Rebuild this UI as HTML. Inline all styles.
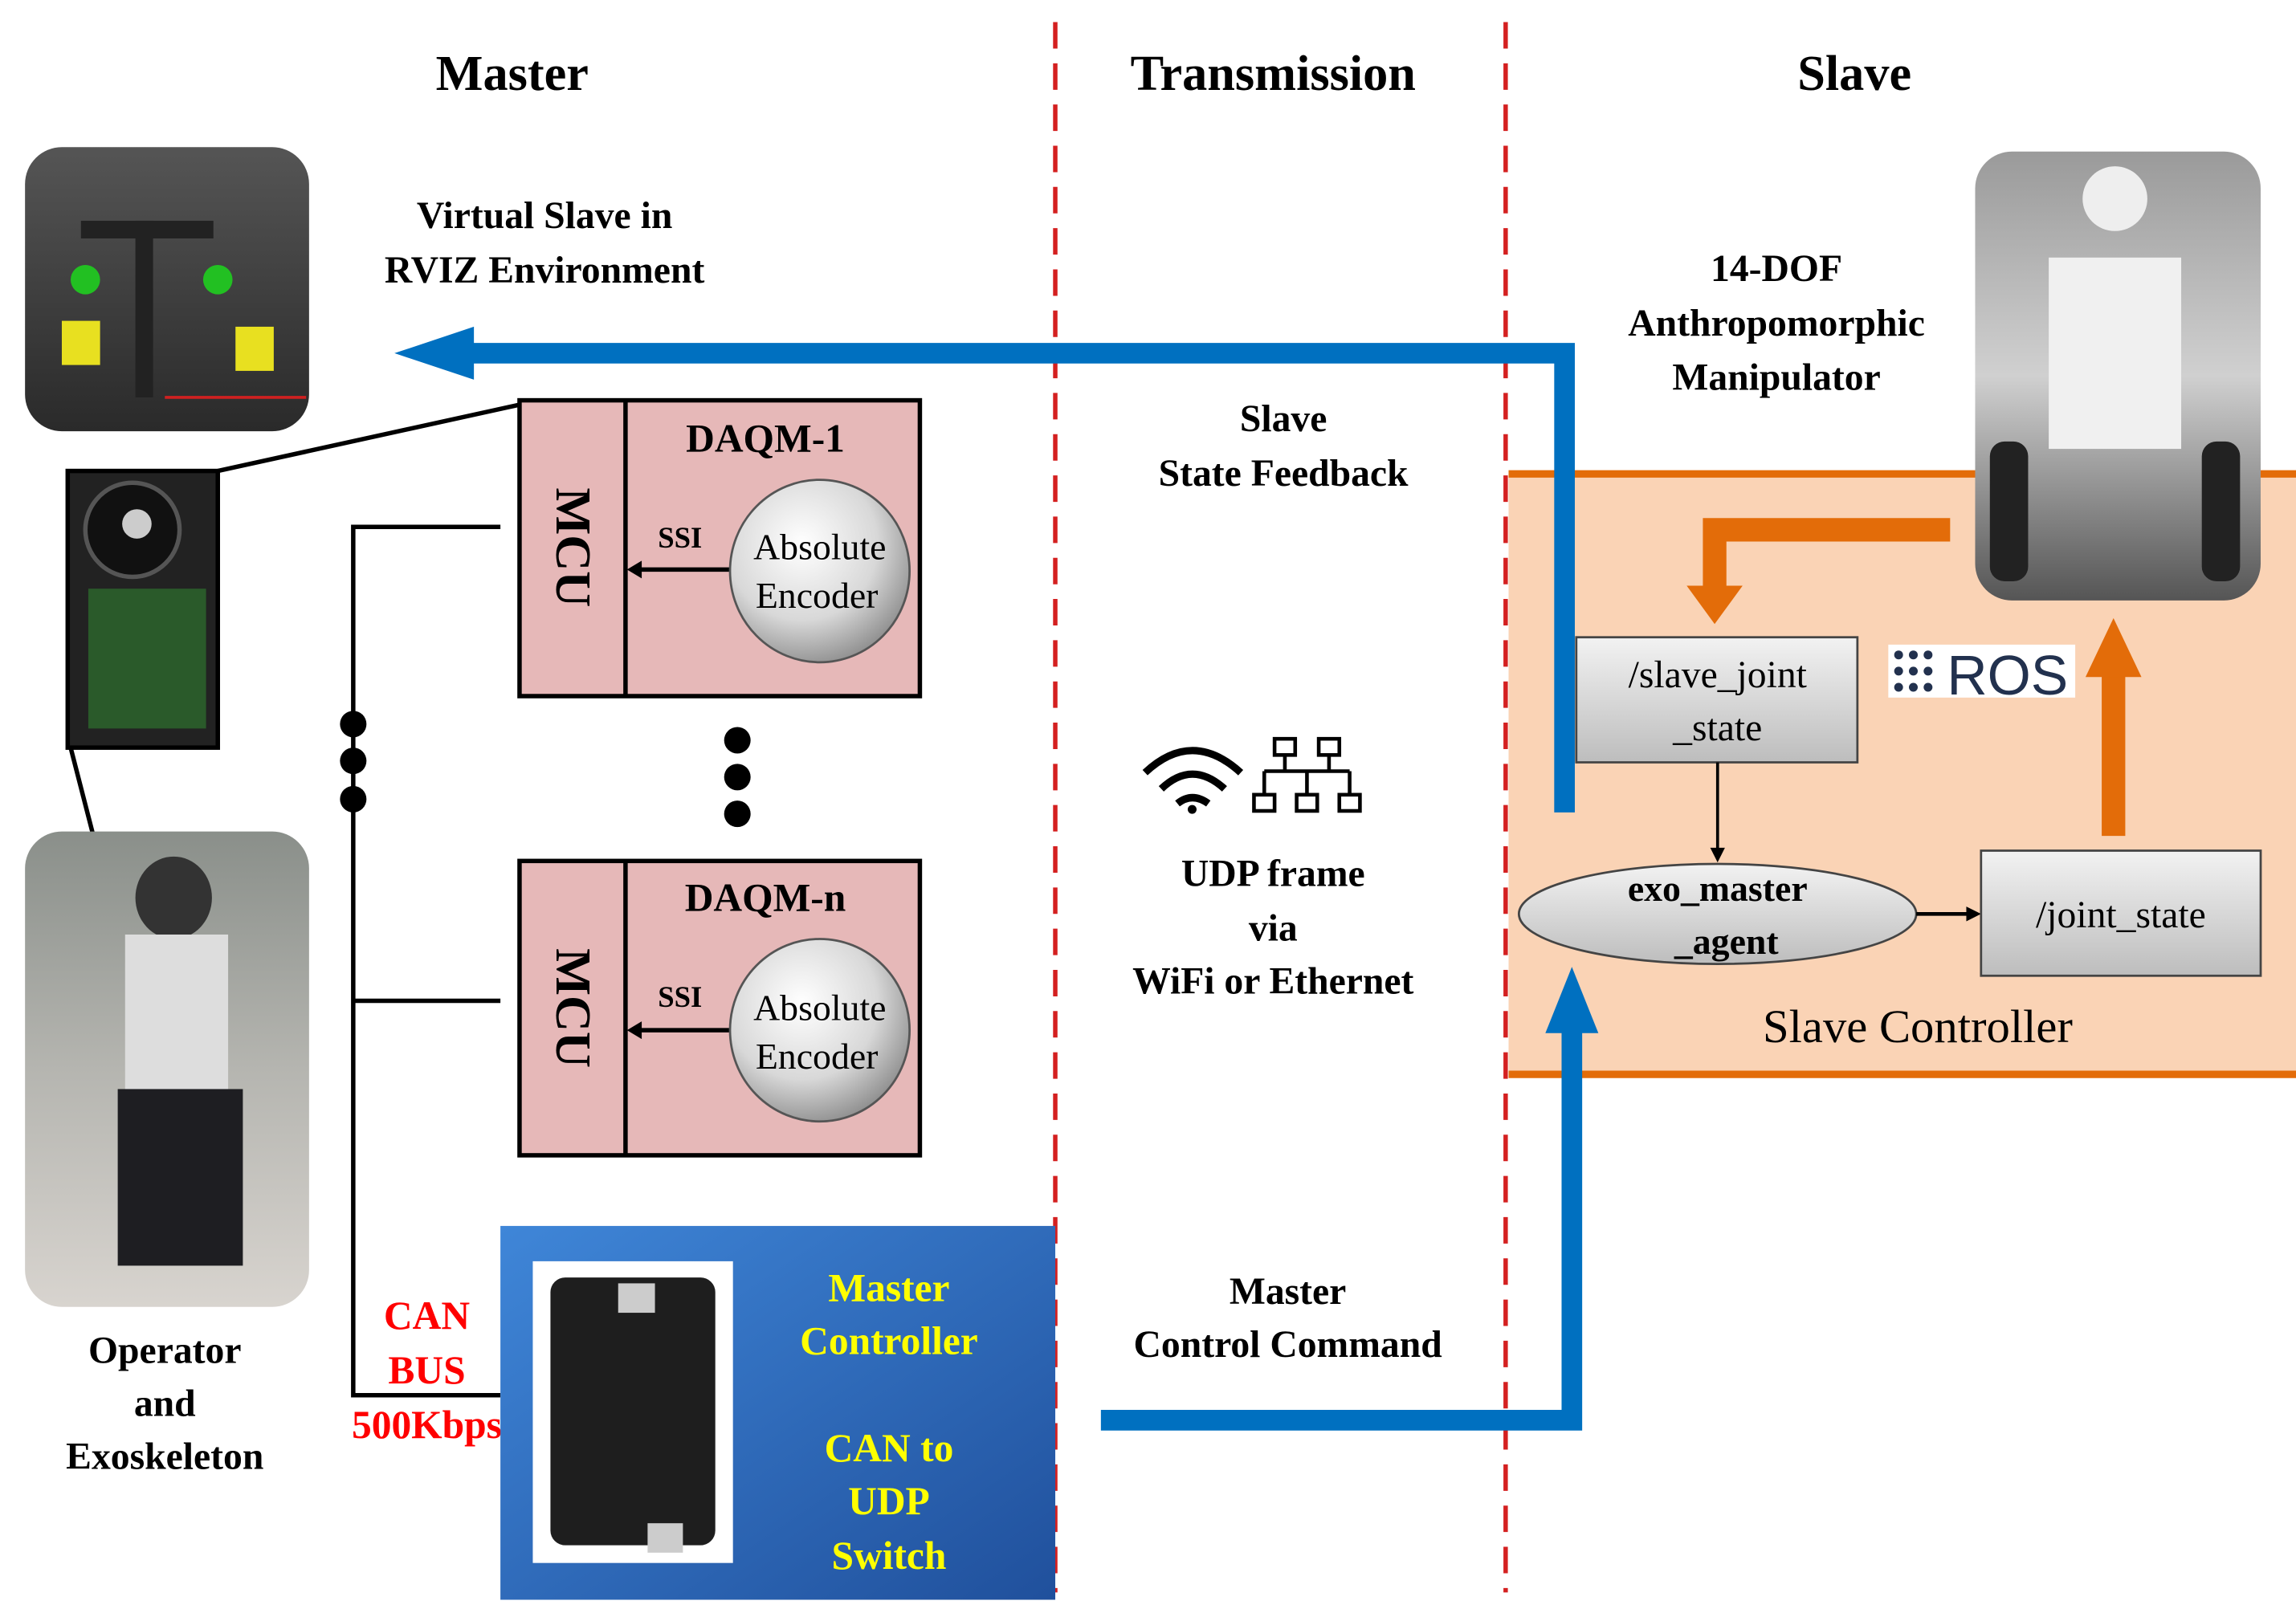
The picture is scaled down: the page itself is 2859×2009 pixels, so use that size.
<!DOCTYPE html>
<html><head><meta charset="utf-8"><style>
html,body{margin:0;padding:0;background:#fff;}
svg{display:block;}
text{font-family:"Liberation Serif",serif;font-weight:bold;text-anchor:middle;}
</style></head><body>
<svg width="2859" height="2009" viewBox="0 0 1560 1096" preserveAspectRatio="none" xmlns="http://www.w3.org/2000/svg">
<defs>
<radialGradient id="enc" cx="40%" cy="35%" r="70%"><stop offset="0" stop-color="#ffffff"/><stop offset="0.6" stop-color="#d8d8d8"/><stop offset="1" stop-color="#8a8a8a"/></radialGradient>
<linearGradient id="gbox" x1="0" y1="0" x2="0" y2="1"><stop offset="0" stop-color="#f2f2f2"/><stop offset="1" stop-color="#bdbdbd"/></linearGradient>
<linearGradient id="blue" x1="0" y1="0" x2="1" y2="1"><stop offset="0" stop-color="#3f86d8"/><stop offset="1" stop-color="#20509c"/></linearGradient>
<linearGradient id="rviz" x1="0" y1="0" x2="0" y2="1"><stop offset="0" stop-color="#555"/><stop offset="1" stop-color="#2a2a2a"/></linearGradient>
<linearGradient id="oper" x1="0" y1="0" x2="0" y2="1"><stop offset="0" stop-color="#8a8f8a"/><stop offset="0.5" stop-color="#b5b5b0"/><stop offset="1" stop-color="#d8d4cf"/></linearGradient>
<linearGradient id="robot" x1="0" y1="0" x2="0" y2="1"><stop offset="0" stop-color="#9a9a9a"/><stop offset="0.5" stop-color="#d0d0d0"/><stop offset="1" stop-color="#555"/></linearGradient>
</defs>

<!-- titles -->
<text x="348" y="61" font-size="34">Master</text>
<text x="865" y="61" font-size="34">Transmission</text>
<text x="1260" y="61" font-size="34">Slave</text>

<!-- slave controller background -->
<rect x="1025" y="322" width="540" height="408" fill="#fad3b5"/>
<line x1="1025" y1="322" x2="1560" y2="322" stroke="#e36c09" stroke-width="5"/>
<line x1="1025" y1="730" x2="1560" y2="730" stroke="#e36c09" stroke-width="5"/>

<!-- dashed lines -->
<line x1="717" y1="15" x2="717" y2="1082" stroke="#d42020" stroke-width="3" stroke-dasharray="18,10"/>
<line x1="1023" y1="15" x2="1023" y2="1082" stroke="#d42020" stroke-width="3" stroke-dasharray="18,10"/>

<!-- RVIZ image -->
<rect x="17" y="100" width="193" height="193" rx="25" fill="url(#rviz)"/>
<rect x="92" y="150" width="12" height="120" fill="#222"/>
<rect x="55" y="150" width="90" height="12" fill="#222"/>
<circle cx="58" cy="190" r="10" fill="#22c022"/><circle cx="148" cy="190" r="10" fill="#22c022"/>
<rect x="42" y="218" width="26" height="30" fill="#e8e020"/><rect x="160" y="222" width="26" height="30" fill="#e8e020"/>
<line x1="112" y1="270" x2="208" y2="270" stroke="#d02020" stroke-width="2"/>
<text x="370" y="155" font-size="26">Virtual Slave in</text>
<text x="370" y="192" font-size="26">RVIZ Environment</text>

<!-- encoder photo -->
<rect x="46" y="320" width="102" height="188" fill="#222" stroke="#000" stroke-width="3"/>
<circle cx="90" cy="360" r="32" fill="#111" stroke="#555" stroke-width="3"/>
<circle cx="93" cy="356" r="10" fill="#ccc"/>
<rect x="60" y="400" width="80" height="95" fill="#2a5a2a"/>
<line x1="148" y1="320" x2="353" y2="275" stroke="#000" stroke-width="3"/>
<line x1="48" y1="508" x2="82" y2="640" stroke="#000" stroke-width="3"/>

<!-- operator photo -->
<rect x="17" y="565" width="193" height="323" rx="25" fill="url(#oper)"/>
<ellipse cx="118" cy="610" rx="26" ry="28" fill="#333"/>
<rect x="85" y="635" width="70" height="110" fill="#ddd"/>
<rect x="80" y="740" width="85" height="120" fill="#1e1e22"/>
<text x="112" y="926" font-size="26">Operator</text>
<text x="112" y="962" font-size="26">and</text>
<text x="112" y="998" font-size="26">Exoskeleton</text>

<!-- blue feedback arrow -->
<polyline points="1063,552 1063,240 318,240" fill="none" stroke="#0070c0" stroke-width="14"/>
<polygon points="268,240 322,222 322,258" fill="#0070c0"/>

<!-- DAQM-1 -->
<rect x="353" y="272" width="272" height="201" fill="#e6b8b8" stroke="#000" stroke-width="3"/>
<line x1="425" y1="272" x2="425" y2="473" stroke="#000" stroke-width="3"/>
<text x="520" y="307" font-size="27">DAQM-1</text>
<text transform="translate(378,372) rotate(90)" font-size="34">MCU</text>
<text x="462" y="372" font-size="20">SSI</text>
<line x1="496" y1="387" x2="432" y2="387" stroke="#000" stroke-width="3"/>
<polygon points="426,387 436,381 436,393" fill="#000"/>
<ellipse cx="557" cy="388" rx="61" ry="62" fill="url(#enc)" stroke="#555" stroke-width="1.5"/>
<text x="557" y="380" font-size="25" font-weight="normal" style="font-weight:normal">Absolute</text>
<text x="555" y="413" font-size="25" style="font-weight:normal">Encoder</text>

<!-- DAQM-n -->
<rect x="353" y="585" width="272" height="200" fill="#e6b8b8" stroke="#000" stroke-width="3"/>
<line x1="425" y1="585" x2="425" y2="785" stroke="#000" stroke-width="3"/>
<text x="520" y="619" font-size="27">DAQM-n</text>
<text transform="translate(378,685) rotate(90)" font-size="34">MCU</text>
<text x="462" y="684" font-size="20">SSI</text>
<line x1="496" y1="700" x2="432" y2="700" stroke="#000" stroke-width="3"/>
<polygon points="426,700 436,694 436,706" fill="#000"/>
<ellipse cx="557" cy="700" rx="61" ry="62" fill="url(#enc)" stroke="#555" stroke-width="1.5"/>
<text x="557" y="693" font-size="25" style="font-weight:normal">Absolute</text>
<text x="555" y="726" font-size="25" style="font-weight:normal">Encoder</text>

<!-- dots -->
<circle cx="240" cy="492" r="9"/><circle cx="240" cy="517" r="9"/><circle cx="240" cy="543" r="9"/>
<circle cx="501" cy="503" r="9"/><circle cx="501" cy="528" r="9"/><circle cx="501" cy="553" r="9"/>

<!-- CAN bus lines -->
<polyline points="340,358 240,358 240,948 340,948" fill="none" stroke="#000" stroke-width="3"/>
<line x1="240" y1="680" x2="340" y2="680" stroke="#000" stroke-width="3"/>
<text x="290" y="903" font-size="27" fill="#ff0000">CAN</text>
<text x="290" y="940" font-size="27" fill="#ff0000">BUS</text>
<text x="290" y="977" font-size="27" fill="#ff0000">500Kbps</text>

<!-- master controller -->
<rect x="340" y="833" width="377" height="254" fill="url(#blue)"/>
<rect x="362" y="857" width="136" height="205" fill="#fff"/>
<rect x="374" y="868" width="112" height="182" rx="10" fill="#1e1e1e"/>
<rect x="420" y="872" width="25" height="20" fill="#ccc"/>
<rect x="440" y="1035" width="24" height="20" fill="#ccc"/>
<text x="604" y="884" font-size="27" fill="#ffff00">Master</text>
<text x="604" y="920" font-size="27" fill="#ffff00">Controller</text>
<text x="604" y="993" font-size="27" fill="#ffff00">CAN to</text>
<text x="604" y="1029" font-size="27" fill="#ffff00">UDP</text>
<text x="604" y="1066" font-size="27" fill="#ffff00">Switch</text>

<!-- blue command arrow -->
<polyline points="748,965 1068,965 1068,698" fill="none" stroke="#0070c0" stroke-width="14"/>
<polygon points="1068,657 1050,702 1086,702" fill="#0070c0"/>

<!-- transmission labels -->
<text x="872" y="293" font-size="26">Slave</text>
<text x="872" y="330" font-size="26">State Feedback</text>
<g fill="none" stroke="#000" stroke-width="5">
<path d="M778,525 Q810,495 843,525"/><path d="M789,536 Q810,516 832,536"/><path d="M800,546 Q810,538 821,546"/>
</g>
<circle cx="810" cy="550" r="3" fill="#000"/>
<g fill="none" stroke="#000" stroke-width="2.5">
<rect x="866" y="502" width="14" height="11"/><rect x="896" y="502" width="14" height="11"/>
<rect x="852" y="540" width="14" height="11"/><rect x="881" y="540" width="14" height="11"/><rect x="910" y="540" width="14" height="11"/>
<path d="M873,513 V524 M903,513 V524 M859,524 H917 M859,524 V540 M888,524 V540 M917,524 V540"/>
</g>
<text x="865" y="602" font-size="26">UDP frame</text>
<text x="865" y="639" font-size="26">via</text>
<text x="865" y="675" font-size="26">WiFi or Ethernet</text>
<text x="875" y="886" font-size="26">Master</text>
<text x="875" y="922" font-size="26">Control Command</text>

<!-- robot photo -->
<rect x="1342" y="103" width="194" height="305" rx="25" fill="url(#robot)"/>
<circle cx="1437" cy="135" r="22" fill="#eee"/>
<rect x="1392" y="175" width="90" height="130" fill="#f0f0f0"/>
<rect x="1352" y="300" width="26" height="95" rx="10" fill="#222"/>
<rect x="1496" y="300" width="26" height="95" rx="10" fill="#222"/>
<text x="1207" y="191" font-size="26">14-DOF</text>
<text x="1207" y="228" font-size="26">Anthropomorphic</text>
<text x="1207" y="265" font-size="26">Manipulator</text>

<!-- orange arrows -->
<polyline points="1325,360 1165,360 1165,400" fill="none" stroke="#e36c09" stroke-width="16"/>
<polygon points="1165,424 1146,398 1184,398" fill="#e36c09"/>
<line x1="1436" y1="568" x2="1436" y2="455" stroke="#e36c09" stroke-width="16"/>
<polygon points="1436,420 1417,460 1455,460" fill="#e36c09"/>

<!-- slave_joint_state box -->
<rect x="1071" y="433" width="191" height="85" fill="url(#gbox)" stroke="#444" stroke-width="1.5"/>
<text x="1167" y="467" font-size="26" style="font-weight:normal">/slave_joint</text>
<text x="1167" y="503" font-size="26" style="font-weight:normal">_state</text>

<!-- ROS logo -->
<rect x="1283" y="438" width="127" height="36" fill="#fff"/>
<g fill="#22314e">
<circle cx="1290" cy="445" r="3"/><circle cx="1300" cy="445" r="3"/><circle cx="1310" cy="445" r="3"/>
<circle cx="1290" cy="456" r="3"/><circle cx="1300" cy="456" r="3"/><circle cx="1310" cy="456" r="3"/>
<circle cx="1290" cy="467" r="3"/><circle cx="1300" cy="467" r="3"/><circle cx="1310" cy="467" r="3"/>
</g>
<text x="1364" y="472" font-size="38" fill="#22314e" style="font-family:'Liberation Sans',sans-serif;font-weight:normal">ROS</text>

<!-- arrows / ellipse -->
<line x1="1167" y1="518" x2="1167" y2="578" stroke="#000" stroke-width="2"/>
<polygon points="1167,586 1162,576 1172,576" fill="#000"/>
<ellipse cx="1167" cy="621" rx="135" ry="34" fill="url(#gbox)" stroke="#444" stroke-width="1.5"/>
<text x="1167" y="612" font-size="25">exo_master</text>
<text x="1173" y="648" font-size="25">_agent</text>
<line x1="1302" y1="621" x2="1338" y2="621" stroke="#000" stroke-width="2.5"/>
<polygon points="1346,621 1336,616 1336,626" fill="#000"/>
<rect x="1346" y="578" width="190" height="85" fill="url(#gbox)" stroke="#444" stroke-width="1.5"/>
<text x="1441" y="630" font-size="26" style="font-weight:normal">/joint_state</text>
<text x="1303" y="708" font-size="32" style="font-weight:normal">Slave Controller</text>
</svg>
</body></html>
